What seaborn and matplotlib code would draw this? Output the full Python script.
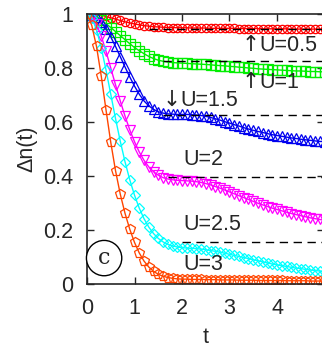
import numpy as np
import pandas as pd
import matplotlib
matplotlib.use("Agg")
import matplotlib.pyplot as plt
import seaborn as sns

# time grid of the simulation
t = np.round(np.linspace(0, 5, 51), 1)

n_u05 = [1.000, 0.9995, 0.998, 0.995, 0.991, 0.986, 0.981, 0.976, 0.971, 0.967,
         0.963, 0.960, 0.957, 0.955, 0.953, 0.952, 0.951, 0.950, 0.950, 0.949,
         0.949, 0.949, 0.948, 0.948, 0.948, 0.948, 0.947, 0.947, 0.947, 0.947,
         0.947, 0.947, 0.946, 0.946, 0.946, 0.946, 0.946, 0.945, 0.945, 0.945,
         0.945, 0.945, 0.945, 0.944, 0.944, 0.944, 0.944, 0.944, 0.944, 0.944,
         0.944]
n_u1 = [1.000, 0.998, 0.990, 0.978, 0.964, 0.950, 0.935, 0.920, 0.905, 0.890,
        0.876, 0.864, 0.853, 0.843, 0.835, 0.829, 0.825, 0.822, 0.820, 0.819,
        0.818, 0.817, 0.816, 0.815, 0.814, 0.813, 0.812, 0.810, 0.809, 0.808,
        0.806, 0.805, 0.803, 0.802, 0.800, 0.799, 0.797, 0.796, 0.795, 0.794,
        0.793, 0.792, 0.791, 0.790, 0.789, 0.789, 0.788, 0.787, 0.787, 0.786,
        0.786]
n_u15 = [1.000, 0.998, 0.988, 0.970, 0.945, 0.915, 0.880, 0.842, 0.804, 0.767,
         0.733, 0.703, 0.678, 0.660, 0.647, 0.638, 0.633, 0.630, 0.629, 0.628,
         0.628, 0.628, 0.627, 0.626, 0.624, 0.621, 0.617, 0.612, 0.607, 0.601,
         0.596, 0.590, 0.585, 0.579, 0.574, 0.569, 0.565, 0.561, 0.557, 0.553,
         0.550, 0.547, 0.544, 0.541, 0.539, 0.536, 0.534, 0.532, 0.530, 0.528,
         0.527]
n_u2 = [1.000, 0.990, 0.962, 0.918, 0.862, 0.800, 0.738, 0.678, 0.622, 0.571,
        0.527, 0.489, 0.458, 0.434, 0.416, 0.403, 0.394, 0.389, 0.386, 0.384,
        0.383, 0.382, 0.381, 0.379, 0.376, 0.372, 0.367, 0.361, 0.355, 0.348,
        0.341, 0.334, 0.327, 0.320, 0.313, 0.306, 0.299, 0.293, 0.287, 0.281,
        0.276, 0.271, 0.266, 0.261, 0.257, 0.253, 0.249, 0.245, 0.242, 0.239,
        0.236]
n_u25 = [1.000, 0.985, 0.942, 0.875, 0.793, 0.703, 0.613, 0.529, 0.453, 0.386,
         0.329, 0.281, 0.242, 0.211, 0.187, 0.169, 0.156, 0.147, 0.141, 0.137,
         0.135, 0.133, 0.132, 0.131, 0.129, 0.127, 0.124, 0.121, 0.118, 0.114,
         0.110, 0.106, 0.102, 0.098, 0.094, 0.090, 0.086, 0.082, 0.078, 0.074,
         0.071, 0.068, 0.065, 0.062, 0.059, 0.057, 0.054, 0.052, 0.050, 0.048,
         0.046]
n_u3 = [1.000, 0.958, 0.880, 0.770, 0.645, 0.525, 0.420, 0.333, 0.262, 0.203,
        0.154, 0.115, 0.085, 0.063, 0.047, 0.036, 0.029, 0.024, 0.021, 0.019,
        0.018, 0.018, 0.017, 0.017, 0.017, 0.016, 0.016, 0.016, 0.015, 0.015,
        0.015, 0.015, 0.014, 0.014, 0.014, 0.014, 0.013, 0.013, 0.013, 0.013,
        0.013, 0.013, 0.012, 0.012, 0.012, 0.012, 0.012, 0.011, 0.011, 0.011,
        0.011]

# long-time (asymptotic) values, drawn as dashed lines
asym_vals = [0.944, 0.826, 0.626, 0.396, 0.156]
asym_start = [1.3, 1.6, 1.6, 1.7, 2.0]

series = [
    (n_u05, "#ff0000", "o", 6),
    (n_u1, "#00ee00", "s", 6.5),
    (n_u15, "#0000ee", "^", 7),
    (n_u2, "#ff00ff", "v", 7),
    (n_u25, "#00ffff", "D", 5.5),
    (n_u3, "#ff4500", "p", 7.5),
]

sns.set_style("ticks")
plt.rcParams["font.family"] = ["Liberation Sans", "DejaVu Sans"]

fig = plt.figure(figsize=(3.22, 3.47), dpi=100)
ax = fig.add_axes([87 / 322, 63 / 347, 237.5 / 322, 270 / 347])

for vals, col, mk, ms in series:
    df = pd.DataFrame({"t": t, "n": vals})
    sns.lineplot(data=df, x="t", y="n", ax=ax, color=col, linewidth=1,
                 marker=mk, markersize=ms, markerfacecolor="none",
                 markeredgecolor=col, markeredgewidth=0.9)

for v, t0 in zip(asym_vals, asym_start):
    ax.plot([t0, 5], [v, v], color="black", linestyle=(0, (6, 4)), linewidth=1)

fs = 15.5
ax.set_xlim(0, 5)
ax.set_ylim(0, 1)
ax.set_xticks([0, 1, 2, 3, 4, 5])
ax.set_xticklabels(["0", "1", "2", "3", "4", ""])
ax.set_yticks([0, 0.2, 0.4, 0.6, 0.8, 1])
ax.set_yticklabels(["0", "0.2", "0.4", "0.6", "0.8", "1"])
ax.tick_params(direction="in", length=5, width=1, labelsize=fs, pad=10,
               top=True, right=True)
for s in ax.spines.values():
    s.set_linewidth(1.2)
ax.set_xlabel("t", fontsize=fs, labelpad=6)
ax.set_ylabel("Δn(t)", fontsize=fs, labelpad=4)

# curve labels; arrows drawn separately in DejaVu Sans
arrow_kw = dict(fontsize=fs, family="DejaVu Sans", ha="right", va="center")
ax.text(3.63, 0.885, "↑", **arrow_kw)
ax.text(3.63, 0.885, "U=0.5", fontsize=fs, va="center")
ax.text(3.63, 0.748, "↑", **arrow_kw)
ax.text(3.63, 0.748, "U=1", fontsize=fs, va="center")
ax.text(1.97, 0.68, "↓", **arrow_kw)
ax.text(1.97, 0.68, "U=1.5", fontsize=fs, va="center")
ax.text(2.02, 0.46, "U=2", fontsize=fs, va="center")
ax.text(2.02, 0.222, "U=2.5", fontsize=fs, va="center")
ax.text(2.02, 0.074, "U=3", fontsize=fs, va="center")

ax.text(0.36, 0.096, "c", fontsize=16, family="DejaVu Serif",
        ha="center", va="center",
        bbox=dict(boxstyle="circle,pad=0.3", fc="white", ec="black", lw=1))

fig.savefig("out.png", dpi=100)
